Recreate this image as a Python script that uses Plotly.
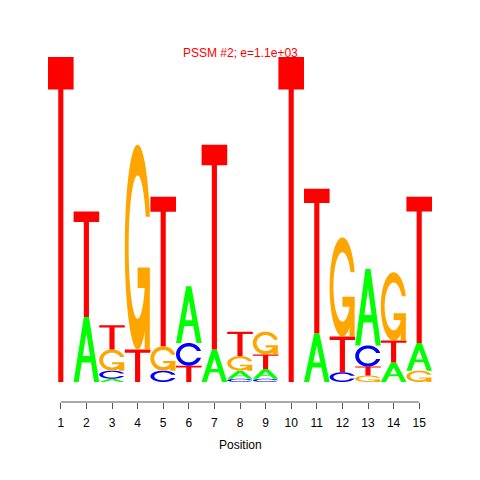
import numpy as np
import plotly.graph_objects as go

# ---- data (information content in bits) ----
positions = list(range(1, 16))
bits_A = [0.00, 0.40, 0.02, 0.00, 0.00, 0.35, 0.20, 0.05, 0.06, 0.00, 0.30, 0.00, 0.47, 0.12, 0.17]
bits_C = [0.00, 0.00, 0.05, 0.00, 0.07, 0.14, 0.00, 0.02, 0.02, 0.00, 0.00, 0.06, 0.13, 0.00, 0.00]
bits_G = [0.00, 0.00, 0.13, 1.26, 0.15, 0.00, 0.00, 0.09, 0.14, 0.00, 0.00, 0.61, 0.04, 0.42, 0.07]
bits_T = [2.00, 0.65, 0.15, 0.20, 0.92, 0.10, 1.26, 0.15, 0.09, 2.00, 0.89, 0.22, 0.055, 0.135, 0.90]
tick_labels = [str(p) for p in positions]
title_text = "PSSM #2; e=1.1e+03"
x_title = "Position"

colors = {"A": "#00FF00", "C": "#0000FF", "G": "#FFA500", "T": "#FF0000"}


# ---- glyph outlines in the unit square (seqLogo style) ----
def glyph_A():
    ox = np.array([0, 4, 6, 10, 8, 6.8, 3.2, 2]) * 0.1
    oy = np.array([0, 10, 10, 0, 0, 3, 3, 0]) * 0.1
    ix = np.array([3.6, 6.4, 5]) * 0.1
    iy = np.array([4, 4, 7.5]) * 0.1
    return [[(ox, oy), (ix, iy)]]


def glyph_T():
    x = np.array([0, 10, 10, 6, 6, 4, 4, 0]) * 0.1
    y = np.array([10, 10, 9, 9, 0, 0, 9, 9]) * 0.1
    return [[(x, y)]]


def c_body():
    a1 = np.linspace(0.3 + np.pi / 2, np.pi, 100)
    a2 = np.linspace(np.pi, 1.5 * np.pi, 100)
    xl1 = 0.5 + 0.5 * np.sin(a1); yl1 = 0.5 + 0.5 * np.cos(a1)
    xl2 = 0.5 + 0.5 * np.sin(a2); yl2 = 0.5 + 0.5 * np.cos(a2)
    xl = np.concatenate([xl1, xl2]); yl = np.concatenate([yl1, yl2])
    x = np.concatenate([xl, xl[::-1]]); y = np.concatenate([yl, 1 - yl[::-1]])
    xi1 = 0.5 + 0.35 * np.sin(a1); yi1 = 0.5 + 0.35 * np.cos(a1)
    keep = yi1 <= yl1.max()
    xi1 = xi1[keep]; yi1 = yi1[keep].copy(); yi1[0] = yl1.max()
    xi2 = 0.5 + 0.35 * np.sin(a2); yi2 = 0.5 + 0.35 * np.cos(a2)
    xi = np.concatenate([xi1, xi2]); yi = np.concatenate([yi1, yi2])
    x1 = np.concatenate([xi, xi[::-1]]); y1 = np.concatenate([yi, 1 - yi[::-1]])
    x = np.concatenate([x, x1[::-1]]); y = np.concatenate([y, y1[::-1]])
    return x, y, xl1.max()


def glyph_C():
    x, y, _ = c_body()
    return [[(x, y)]]


def glyph_G():
    x, y, r1 = c_body()
    h1 = 0.4
    bx = np.array([r1, 0.5, 0.5, r1 - 0.2, r1 - 0.2, r1])
    by = np.array([h1, h1, h1 - 0.1, h1 - 0.1, 0, 0])
    return [[(x, y)], [(bx, by)]]


glyphs = {"A": glyph_A(), "C": glyph_C(), "G": glyph_G(), "T": glyph_T()}


def make_path(subpaths, x0, y0, h):
    parts = []
    for gx, gy in subpaths:
        xs = x0 + gx
        ys = y0 + h * gy
        pts = " L".join(f"{a:.4f},{b:.5f}" for a, b in zip(xs, ys))
        parts.append("M" + pts + " Z")
    return " ".join(parts)


shapes = []
for i, p in enumerate(positions):
    col = {"A": bits_A[i], "C": bits_C[i], "G": bits_G[i], "T": bits_T[i]}
    order = sorted(col.items(), key=lambda kv: kv[1])
    base = 0.0
    for letter, h in order:
        if h <= 0:
            continue
        for sub in glyphs[letter]:
            shapes.append(dict(
                type="path", xref="x", yref="y",
                path=make_path(sub, p - 0.5, base, h),
                fillcolor=colors[letter], line=dict(width=0), layer="above",
            ))
        base += h

# axis line from first to last tick (R style)
shapes.append(dict(type="line", xref="x", yref="paper",
                   x0=positions[0], x1=positions[-1], y0=0, y1=0,
                   line=dict(color="#555555", width=1)))

W, H = 480, 480
# page body has an 8px margin, so shift the plot area up/left accordingly
ml, mr, mt, mb = 40, 56, 42, 86
plot_h = H - mt - mb
px_per_bit = 162.5
y_lo = -20 / px_per_bit
y_hi = 2 + 7 / px_per_bit

fig = go.Figure()
fig.add_trace(go.Scatter(x=positions, y=[0] * len(positions), mode="markers",
                         marker=dict(opacity=0), hoverinfo="skip", showlegend=False))
fig.update_layout(
    width=W, height=H,
    margin=dict(l=ml, r=mr, t=mt, b=mb),
    paper_bgcolor="white", plot_bgcolor="white",
    shapes=shapes,
    showlegend=False,
    font=dict(family="Liberation Sans, Arial, sans-serif", size=12, color="black"),
    xaxis=dict(range=[0.5, 15.5], tickmode="array", tickvals=positions, ticktext=tick_labels,
               ticks="outside", ticklen=6, tickcolor="#555555", tickwidth=1,
               ticklabelstandoff=4,
               showline=False, showgrid=False, zeroline=False, fixedrange=True,
               tickfont=dict(size=12, color="black")),
    yaxis=dict(range=[y_lo, y_hi], visible=False, fixedrange=True),
    annotations=[
        dict(text=title_text, xref="paper", yref="paper", x=0.5, y=1 - 3 / plot_h,
             xanchor="center", yanchor="middle", showarrow=False,
             font=dict(size=12, color="#FF0000")),
        dict(text=x_title, xref="paper", yref="paper", x=0.5, y=-(445 - 402) / plot_h,
             xanchor="center", yanchor="middle", showarrow=False,
             font=dict(size=12, color="black")),
    ],
)
fig.write_html("out.html")
